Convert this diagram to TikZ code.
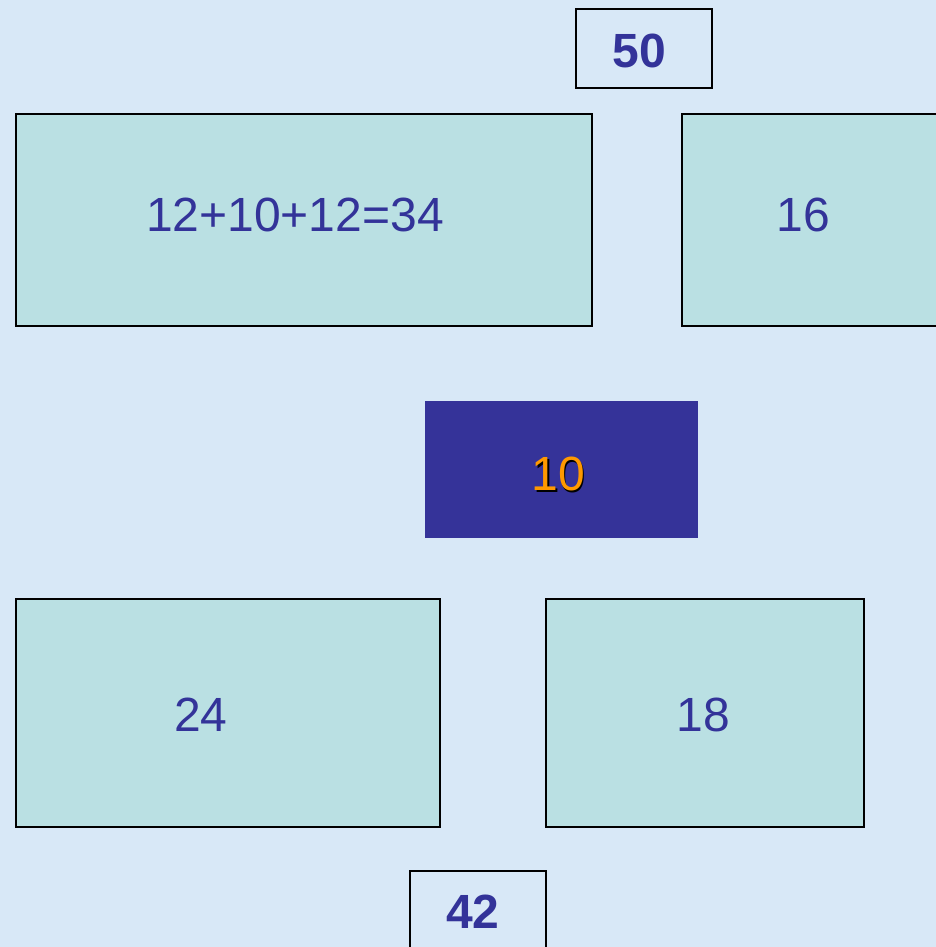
\documentclass[tikz,border=0pt]{standalone}
\usepackage{fontspec}
\setmainfont{Liberation Sans}
\definecolor{bg}{HTML}{D8E8F7}
\definecolor{boxfill}{HTML}{BAE0E3}
\definecolor{txt}{HTML}{333399}
\definecolor{dark}{HTML}{353399}
\definecolor{orng}{HTML}{FF9900}
\newcommand{\bigtxt}[1]{{\fontsize{48}{52}\selectfont #1}}
\newcommand{\bigbold}[1]{{\fontsize{48}{52}\selectfont\bfseries #1}}
\begin{document}
\begin{tikzpicture}[x=1pt,y=1pt,
  tealbox/.style={draw=black, line width=1.6pt, fill=boxfill, text=txt, inner sep=0pt, anchor=north west},
  smallbox/.style={draw=black, line width=1.6pt, text=txt, inner sep=0pt, anchor=north west},
  darkbox/.style={fill=dark, inner sep=0pt, anchor=north west},
  lbl/.style={inner sep=0pt}]
\useasboundingbox (0,0) rectangle (936,947);
\clip (0,0) rectangle (936,947);
\fill[bg] (0,0) rectangle (936,947);
% top small box
\node[smallbox, minimum width=136, minimum height=79] (b50) at (575,939) {};
\node[lbl, text=txt] at (639,896) {\bigbold{50}};
% big top-left box
\node[tealbox, minimum width=576, minimum height=212] (b34) at (15,834) {};
\node[lbl, text=txt] at (295,732) {\bigtxt{12+10+12=34}};
% right box extends past edge
\node[tealbox, minimum width=279, minimum height=212] (b16) at (681,834) {};
\node[lbl, text=txt] at (803,732) {\bigtxt{16}};
% dark center box
\node[darkbox, minimum width=273, minimum height=137] (b10) at (425,546) {};
\node[lbl, text=black] at (559.8,471.2) {\bigtxt{10}};
\node[lbl, text=orng] (t10) at (558,473) {\bigtxt{10}};
% bottom boxes
\node[tealbox, minimum width=424, minimum height=228] (b24) at (15,349) {};
\node[lbl, text=txt] at (201,232) {\bigtxt{24}};
\node[tealbox, minimum width=318, minimum height=228] (b18) at (545,349) {};
\node[lbl, text=txt] at (703,232) {\bigtxt{18}};
% bottom small box
\node[smallbox, minimum width=136, minimum height=100] (b42) at (409,77) {};
\node[lbl, text=txt] at (473,35) {\bigbold{42}};
\end{tikzpicture}
\end{document}
